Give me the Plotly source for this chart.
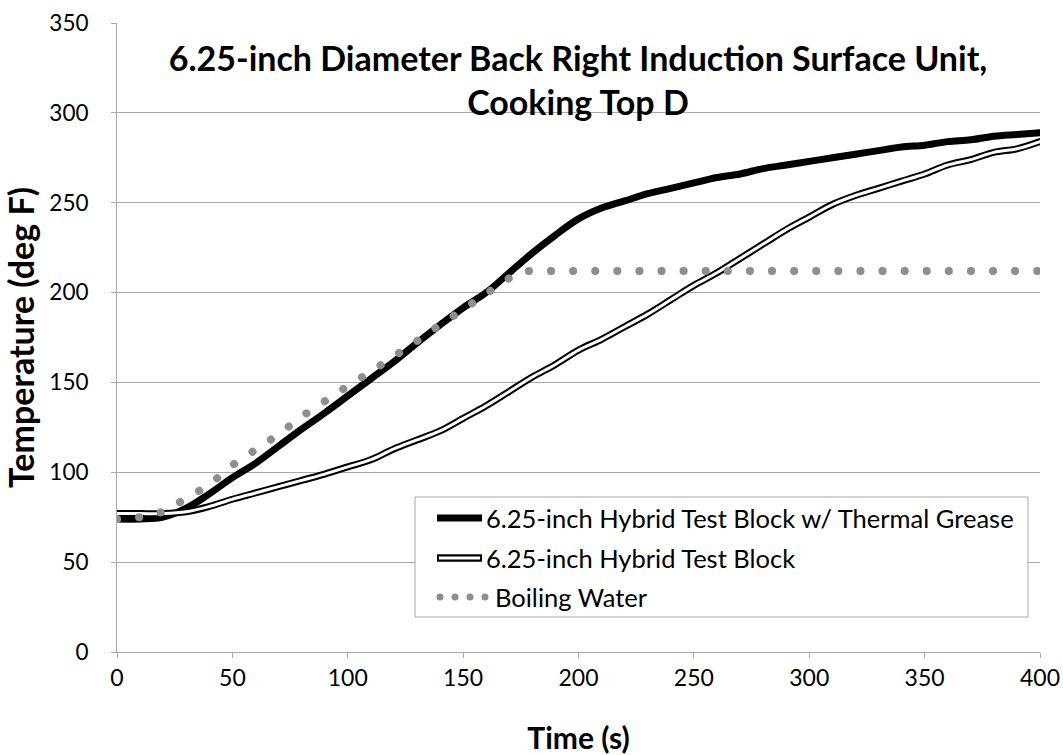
import plotly.graph_objects as go

# ---- data ----
time_s = [0, 10, 20, 30, 40, 50, 60, 70, 80, 90, 100, 110, 120, 130, 140, 150, 160, 170, 180, 190,
          200, 210, 220, 230, 240, 250, 260, 270, 280, 290, 300, 310, 320, 330, 340, 350, 360, 370,
          380, 390, 400]
grease_temp = [74, 74, 75, 80, 88, 97, 105, 114.5, 124, 133, 142.5, 152, 161.5, 172, 182, 191.5,
               200, 211, 222, 232, 241, 247, 251, 255, 258, 261, 264, 266, 269, 271, 273, 275, 277,
               279, 281, 282, 284, 285, 287, 288, 289]
hybrid_temp = [77, 77, 77, 78, 81, 85, 88.5, 92, 95.5, 99, 103, 107, 113, 118, 123, 130, 137, 145,
               153, 160, 168, 174, 181, 188, 196, 204, 211, 219, 227, 235, 242, 249, 254, 258, 262,
               266, 271, 274, 278, 280, 284]
boil_time = [0, 10, 20, 30, 40, 50, 60, 70, 80, 90, 100, 110, 120, 130, 140, 150, 160, 170, 176, 400]
boil_temp = [74, 75, 78, 86, 93, 104, 112, 121, 131, 140, 148, 156, 164, 173, 182, 191, 200, 208,
             212, 212]

x_ticks = [0, 50, 100, 150, 200, 250, 300, 350, 400]
y_ticks = [0, 50, 100, 150, 200, 250, 300, 350]

names = ["6.25-inch Hybrid Test Block w/ Thermal Grease",
         "6.25-inch Hybrid Test Block",
         "Boiling Water"]

FONT = "Lato"
GRID = "#a8a8a8"
BOIL = "#8e8e8e"

fig = go.Figure()
fig.add_trace(go.Scatter(x=time_s, y=grease_temp, mode="lines", name=names[0],
                         line=dict(color="black", width=7, shape="spline"), showlegend=False))
fig.add_trace(go.Scatter(x=time_s, y=hybrid_temp, mode="lines", name=names[1],
                         line=dict(color="black", width=7, shape="spline"), showlegend=False))
fig.add_trace(go.Scatter(x=time_s, y=hybrid_temp, mode="lines", name=names[1] + " (inner)",
                         line=dict(color="white", width=3, shape="spline"), showlegend=False,
                         hoverinfo="skip"))
fig.add_trace(go.Scatter(x=boil_time, y=boil_temp, mode="lines", name=names[2],
                         line=dict(color=BOIL, width=8, dash="0.1px,22px"), showlegend=False))

# ---- manual legend (to reproduce the double-line symbol) ----
L, T, B = 117, 23, 652
W, H = 1040 - 117, 652 - 23
def px(x):
    return (x - L) / W
def py(y):
    return (B - y) / H

shapes = [dict(type="rect", xref="paper", yref="paper",
               x0=px(415), x1=px(1028), y0=py(617), y1=py(497),
               line=dict(color=GRID, width=1), fillcolor="white", layer="above")]
rows = [518, 558, 597]
shapes.append(dict(type="line", xref="paper", yref="paper", x0=px(437), x1=px(482),
                   y0=py(rows[0]), y1=py(rows[0]), line=dict(color="black", width=7), layer="above"))
shapes.append(dict(type="line", xref="paper", yref="paper", x0=px(437), x1=px(482),
                   y0=py(rows[1]), y1=py(rows[1]), line=dict(color="black", width=7.5), layer="above"))
shapes.append(dict(type="line", xref="paper", yref="paper", x0=px(439), x1=px(480),
                   y0=py(rows[1]), y1=py(rows[1]), line=dict(color="white", width=3), layer="above"))
for cx in [440, 455, 470, 485]:
    shapes.append(dict(type="circle", xref="paper", yref="paper",
                       x0=px(cx - 3.5), x1=px(cx + 3.5), y0=py(rows[2] + 3.5), y1=py(rows[2] - 3.5),
                       fillcolor=BOIL, line=dict(width=0), layer="above"))

annotations = []
text_x = [484, 484, 493]
for name, ry, tx in zip(names, rows, text_x):
    annotations.append(dict(xref="paper", yref="paper", x=px(tx), y=py(ry), text=name,
                            showarrow=False, xanchor="left", yanchor="middle",
                            font=dict(family=FONT, size=25.5, color="black")))

fig.update_layout(
    width=1063, height=755,
    margin=dict(l=117, r=23, t=23, b=103),
    paper_bgcolor="white", plot_bgcolor="white",
    font=dict(family=FONT, color="black"),
    title=dict(text="<b>6.25-inch Diameter Back Right Induction Surface Unit,<br>Cooking Top D</b>",
               font=dict(family=FONT, size=34, color="black"),
               x=px(578), xref="paper", xanchor="center",
               y=1 - 71 / 755, yref="container", yanchor="top"),
    shapes=shapes,
    annotations=annotations,
    showlegend=False,
)
fig.update_xaxes(range=[0, 400], tickvals=x_ticks, showgrid=False, zeroline=False,
                 showline=True, linecolor=GRID, linewidth=1, automargin=False,
                 ticks="outside", ticklen=5, tickcolor=GRID,
                 tickfont=dict(family=FONT, size=23, color="black"),
                 title=dict(text="<b>Time (s)</b>", font=dict(family=FONT, size=30, color="black"),
                            standoff=40))
fig.update_yaxes(range=[0, 350], tickvals=y_ticks, showgrid=True, gridcolor=GRID, gridwidth=1,
                 zeroline=False, showline=True, linecolor=GRID, linewidth=1, automargin=False,
                 ticks="outside", ticklen=5, tickcolor=GRID,
                 tickfont=dict(family=FONT, size=22.5, color="black"),
                 ticklabelstandoff=18,
                 title=dict(text="<b>Temperature (deg F)</b>",
                            font=dict(family=FONT, size=34, color="black"), standoff=12))

post = """
document.body.style.margin = '0';
document.body.style.padding = '0';
var gd = document.getElementById('{plot_id}');
function fixCaps(){
  var tr = gd.querySelectorAll('.scatterlayer .trace');
  tr.forEach(function(t, i){
    t.querySelectorAll('path.js-line').forEach(function(p){
      p.style.strokeLinecap = 'round'; p.style.strokeLinejoin = 'round';
    });
  });
}
fixCaps();
gd.on('plotly_afterplot', fixCaps);
"""
fig.write_html("out.html", post_script=post, config={"displayModeBar": False})
